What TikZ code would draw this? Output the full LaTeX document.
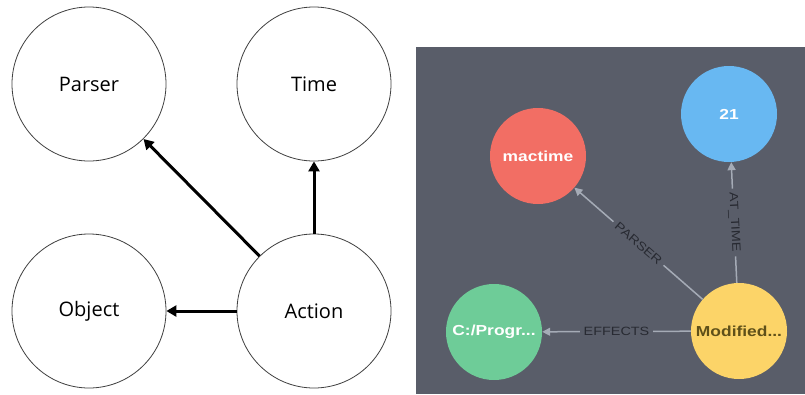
\documentclass[tikz,border=0pt]{standalone}
\usepackage{graphicx}
\usepackage{fontspec}
\setmainfont{Open Sans}
\newfontfamily\arialf{Liberation Sans}
\usetikzlibrary{arrows.meta}
\definecolor{panel}{RGB}{89,93,105}
\definecolor{nred}{RGB}{242,110,100}
\definecolor{nblue}{RGB}{104,184,242}
\definecolor{ngreen}{RGB}{110,204,152}
\definecolor{nyellow}{RGB}{252,212,104}
\definecolor{edgegray}{RGB}{165,171,182}
\definecolor{labtext}{RGB}{40,42,50}
\definecolor{modtext}{RGB}{95,80,25}
\newcommand\widetxt[1]{\scalebox{1.2}[1]{#1}}
\begin{document}
\begin{tikzpicture}[x=1pt,y=-1pt,
  lcirc/.style={circle, draw=black!75, line width=0.8pt, minimum size=154pt, inner sep=0pt,
    font=\fontsize{20}{24}\selectfont},
  larrow/.style={line width=3pt, draw=black, -{Triangle[length=10pt,width=11pt]}},
  rcirc/.style={circle, minimum size=96pt, inner sep=0pt, text=white,
    font=\arialf\bfseries\fontsize{14.5}{17}\selectfont},
  redge/.style={draw=edgegray, line width=1.5pt, -{Triangle[length=8pt,width=8pt]}},
  elabel/.style={fill=panel, text=labtext, inner sep=4pt,
    font=\arialf\fontsize{12}{14}\selectfont}
]
\useasboundingbox (0,0) rectangle (805,394);
\fill[white] (0,0) rectangle (805,394);

% left diagram
\node[lcirc] (parser) at (89,84) {Parser};
\node[lcirc] (time) at (314,84) {Time};
\node[lcirc] (object) at (89,311) {Object};
\node[lcirc] (action) at (314,311) {Action};
\draw[larrow] (action) -- (parser);
\draw[larrow] (action) -- (time);
\draw[larrow] (action) -- (object);

% right panel
\fill[panel] (416,47) rectangle (805,394);
\node[rcirc, fill=nred] (mac) at (538,156) {\widetxt{mactime}};
\node[rcirc, fill=nblue] (num) at (729,114) {\widetxt{21}};
\node[rcirc, fill=ngreen] (prog) at (494,332) {\widetxt{C:/Progr...}};
\node[rcirc, fill=nyellow, text=modtext] (mod) at (739,331) {\widetxt{Modified...}};
\draw[redge] (mod) -- node[elabel] {\widetxt{EFFECTS}} (prog);
\draw[redge] (mod) -- node[elabel, rotate=-41] {\widetxt{PARSER}} (mac);
\draw[redge] (mod) -- node[elabel, rotate=-87] {\widetxt{AT\_TIME}} (num);
\end{tikzpicture}
\end{document}
